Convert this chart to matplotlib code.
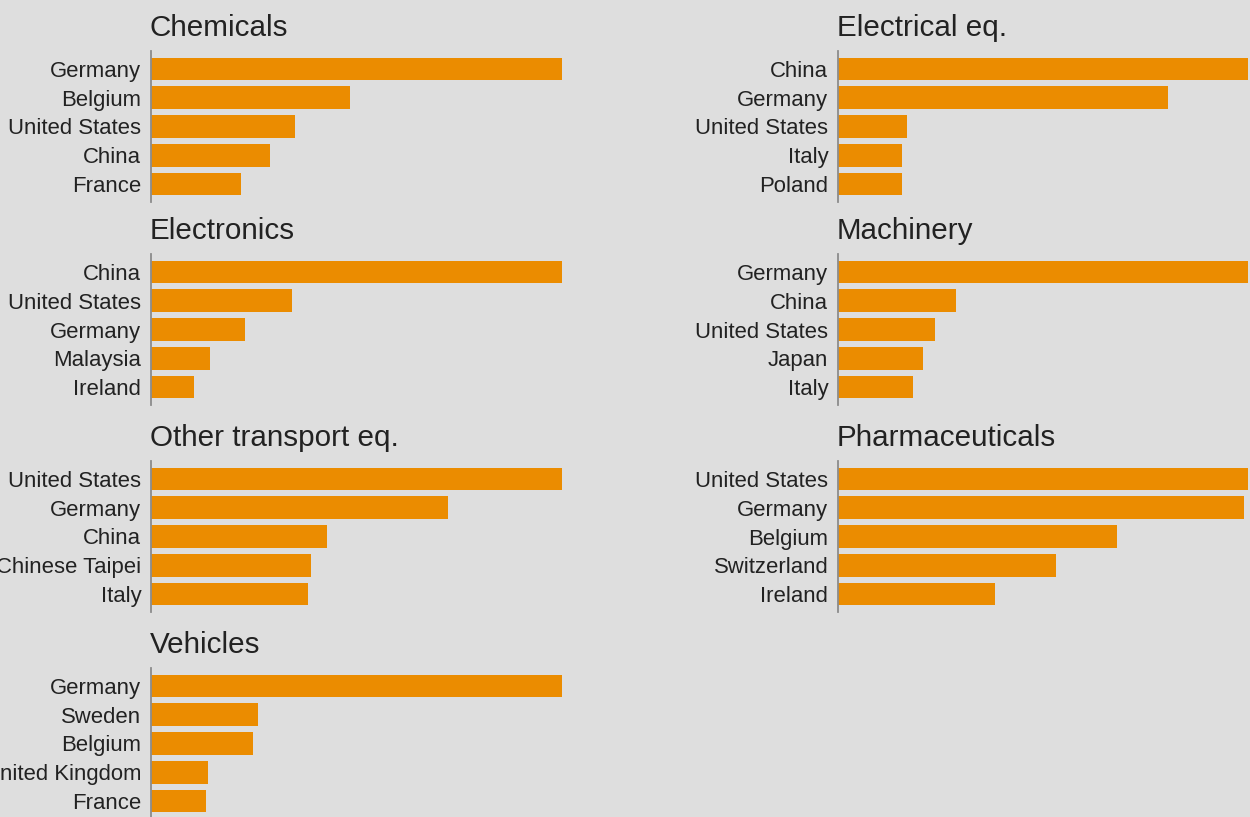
import matplotlib
matplotlib.use("Agg")
import matplotlib.pyplot as plt

# ---- data (relative values, largest = 100 in each panel) ----
chem_countries = ["Germany", "Belgium", "United States", "China", "France"]
chem_values = [100, 48.4, 35.0, 29.0, 21.9]

elec_eq_countries = ["China", "Germany", "United States", "Italy", "Poland"]
elec_eq_values = [100, 80.5, 16.8, 15.6, 15.6]

electronics_countries = ["China", "United States", "Germany", "Malaysia", "Ireland"]
electronics_values = [100, 34.3, 22.9, 14.4, 10.5]

machinery_countries = ["Germany", "China", "United States", "Japan", "Italy"]
machinery_values = [100, 28.8, 23.7, 20.7, 18.3]

transport_countries = ["United States", "Germany", "China", "Chinese Taipei", "Italy"]
transport_values = [100, 72.3, 42.8, 38.9, 38.2]

pharma_countries = ["United States", "Germany", "Belgium", "Switzerland", "Ireland"]
pharma_values = [100, 99.0, 68.0, 53.2, 38.3]

vehicles_countries = ["Germany", "Sweden", "Belgium", "United Kingdom", "France"]
vehicles_values = [100, 26.0, 24.8, 13.9, 13.4]

panel_titles = ["Chemicals", "Electrical eq.", "Electronics", "Machinery",
                "Other transport eq.", "Pharmaceuticals", "Vehicles"]
panel_countries = [chem_countries, elec_eq_countries, electronics_countries,
                   machinery_countries, transport_countries, pharma_countries,
                   vehicles_countries]
panel_values = [chem_values, elec_eq_values, electronics_values, machinery_values,
                transport_values, pharma_values, vehicles_values]

# ---- style ----
BG = "#dedede"
BAR = "#eb8c00"
TXT = "#222222"
AXC = "#8c8c8c"
plt.rcParams["font.family"] = ["Liberation Sans", "DejaVu Sans"]

W, H = 1250, 817
fig = plt.figure(figsize=(W / 100, H / 100), dpi=100, facecolor=BG)

col_left = [151, 838]
col_width = [411, 410]
row_top = [51, 254, 461, 668]
ax_h = 151

for i, (title, cats, vals) in enumerate(zip(panel_titles, panel_countries, panel_values)):
    r, c = divmod(i, 2)
    left = col_left[c] / W
    bottom = 1 - (row_top[r] + ax_h) / H
    ax = fig.add_axes([left, bottom, col_width[c] / W, ax_h / H])
    ax.set_facecolor(BG)
    ypos = list(range(len(cats)))
    ax.barh(ypos, vals, height=0.79, color=BAR)
    ax.set_xlim(0, max(vals))
    ax.set_ylim(4.625, -0.625)
    ax.set_yticks(ypos)
    ax.set_yticklabels(cats, fontsize=15.9, color=TXT)
    ax.tick_params(axis="y", length=0, pad=7)
    ax.set_xticks([])
    for s in ["top", "right", "bottom"]:
        ax.spines[s].set_visible(False)
    ax.spines["left"].set_color(AXC)
    ax.spines["left"].set_linewidth(1.3)
    ax.text(-0.003, 1.0 + 15 / ax_h, title, transform=ax.transAxes,
            ha="left", va="baseline", fontsize=21.3, color=TXT)

fig.savefig("out.png", dpi=100, facecolor=BG)
